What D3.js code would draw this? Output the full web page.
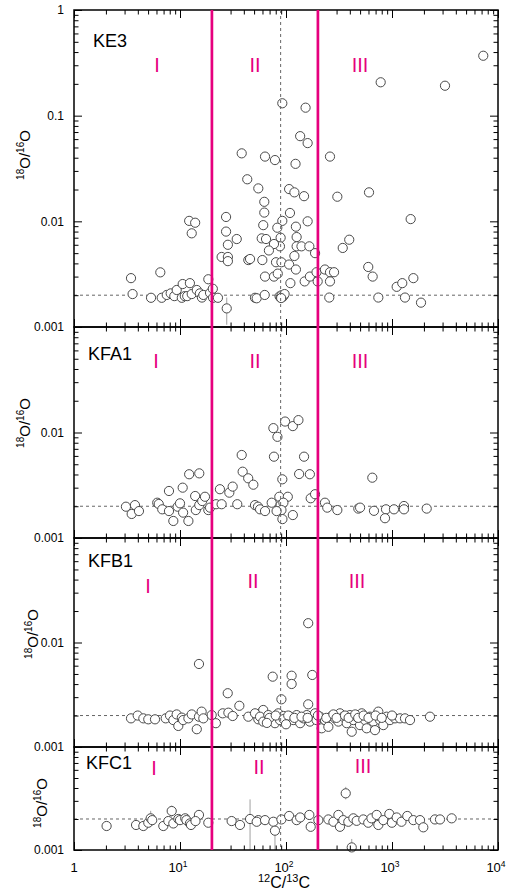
<!DOCTYPE html>
<html>
<head>
<meta charset="utf-8">
<script src="https://cdn.jsdelivr.net/npm/d3@7"></script>
<style>
  body { margin: 0; background: #fff; }
  svg { font-family: "Liberation Sans", Arial, Helvetica, sans-serif; }
</style>
</head>
<body>
<div id="chart"></div>
<script>
// 12C/13C vs 18O/16O for each grain set
const ke3 = [
  [3.45,0.0029],[3.57,0.00205],[6.52,0.00329],[5.33,0.00189],[6.72,0.00189],[7.5,0.00201],[8.17,0.00208],
  [8.84,0.00196],[9.31,0.00224],[10.4,0.00189],[10.6,0.00255],[11.1,0.00196],[11.7,0.00196],[12.4,0.0026],
  [12.9,0.00205],[14.4,0.00224],[15.4,0.00208],[16.1,0.0019],[16.6,0.00201],[18.5,0.00283],[19.2,0.0021],
  [20.4,0.0023],[20.5,0.00189],[12.2,0.0101],[13.9,0.0097],[12.9,0.0077],
  [22.8,0.00189],[27.6,0.0015],[27.2,0.011],[27.2,0.008],[28.3,0.006],[24.7,0.0046],[28.3,0.0046],[34.3,0.0068],
  [28.3,0.0042],[44.1,0.0043],[38.2,0.044],[43.1,0.025],[54.8,0.0205],[51,0.00189],
  [52.9,0.00187],[63,0.00201],[63.4,0.041],[78.7,0.038],[92.3,0.131],[153,0.119],[136,0.064],[160,0.055],
  [123,0.035],[260,0.041],[107,0.0202],[120,0.0188],[148,0.0173],[305,0.0171],[607,0.0188],[62.4,0.0153],
  [62.4,0.0121],[109,0.012],[61,0.0092],[92.3,0.0101],[160,0.01],[1500,0.0105],[82.8,0.0087],[124,0.0089],
  [59,0.0069],[64.8,0.0068],[89,0.007],[126,0.0071],[87.7,0.0058],[77,0.0061],[126,0.0058],[140,0.0058],
  [166,0.0058],[69,0.0053],[395,0.0067],[343,0.0056],[188,0.005],[45.8,0.0044],[59.8,0.0043],[80.5,0.0041],
  [90.5,0.0041],[107,0.0039],[120,0.0047],[124,0.0035],[63.4,0.003],[77,0.003],[83.6,0.0032],[110,0.0026],
  [150,0.0027],[168,0.003],[199,0.0027],[194,0.0033],[233,0.0035],[260,0.0033],[284,0.0033],[260,0.0027],
  [256,0.0019],[597,0.0037],[657,0.003],[743,0.0019],[1107,0.0024],[1250,0.0026],[1590,0.0029],[1326,0.0019],
  [1878,0.0017],[782,0.207],[3162,0.192],[7261,0.369],
  [87,0.00195],[89,0.0019],[91,0.002],[93,0.00192],[95,0.00198],[97,0.00205],[90,0.00188]
];
const ke3Err = [[27.6,0.00105,0.0019]];

const kfa1 = [
  [3.09,0.00198],[3.5,0.00169],[3.76,0.00205],[4.1,0.0018],[6.1,0.00216],[6.3,0.0021],[6.8,0.00187],
  [7.87,0.00279],[7.87,0.0018],[8.65,0.00145],[9.5,0.00198],[10,0.00213],[10.6,0.003],[10.7,0.00174],
  [12,0.00145],[12.2,0.00402],[13.9,0.0025],[14.1,0.00184],[15.2,0.0041],[15.2,0.00205],[16.2,0.00224],
  [17.2,0.00246],[18.5,0.00184],[19.2,0.00194],[21.9,0.00209],[23.8,0.0029],[24.7,0.00209],[29.2,0.00269],
  [31.4,0.00307],[34.7,0.00209],[38.2,0.00612],[39,0.00425],[44,0.00368],[49.2,0.0032],[51,0.00205],
  [54.4,0.00198],[56.9,0.00187],[63.4,0.0018],[73.3,0.00216],[76,0.011],[83,0.0091],[77,0.0059],
  [92.3,0.0036],[86.5,0.00246],[104,0.00246],[89,0.00205],[94.5,0.00216],[90.6,0.00184],[92.5,0.00151],
  [116,0.00165],[81.5,0.0018],[98,0.0127],[116,0.0115],[131,0.0131],[148,0.0059],[133,0.00404],[168,0.00402],
  [171,0.00238],[188,0.0026],[233,0.00216],[245,0.00194],[305,0.00184],[481,0.0019],[500,0.00194],
  [652,0.00373],[676,0.00181],[878,0.00187],[859,0.00154],[1044,0.00187],[1297,0.00201],[1297,0.00187],
  [2125,0.0019]
];
const kfa1Err = [];

const kfb1 = [
  [3.45,0.00188],[3.99,0.002],[4.51,0.00188],[5.02,0.00184],[5.81,0.00184],[7.33,0.00188],[8.05,0.002],
  [8.65,0.00181],[9.3,0.00205],[9.64,0.00159],[10.4,0.00191],[10.7,0.00181],[12,0.00188],[12.9,0.00205],
  [14.4,0.00148],[15.1,0.00623],[15.1,0.00195],[16,0.00218],[16.6,0.00188],[19.9,0.00202],[21.8,0.00169],
  [25.3,0.0021],[28.2,0.00327],[28.6,0.00213],[31.4,0.00198],[36.3,0.00248],[44.1,0.00195],[54.8,0.00184],
  [56.9,0.0021],[61,0.00226],[74.9,0.00471],[113,0.00481],[113,0.00401],[90.5,0.00286],[162,0.0153],
  [177,0.00489],[162,0.00256],
  [51,0.0021],[56.9,0.00195],[61,0.00175],[68.1,0.00202],[73.3,0.00188],[78.7,0.00169],[84.6,0.0021],
  [87.7,0.00181],[94.5,0.00198],[101,0.00175],[109,0.00195],[117,0.00181],[126,0.00202],[136,0.00169],
  [146,0.00188],[157,0.00202],[168,0.00175],[188,0.0021],[194,0.00181],[209,0.00195],[217,0.00151],
  [233,0.00181],[251,0.00156],[270,0.00198],[290,0.00188],[312,0.00175],[323,0.0021],[347,0.00195],
  [374,0.00169],[401,0.00202],[417,0.0014],[432,0.00181],[464,0.00195],[499,0.00162],[518,0.0021],
  [556,0.00181],[577,0.00151],[620,0.00195],[666,0.00175],[691,0.00145],[743,0.00218],[771,0.00181],
  [828,0.00162],[891,0.00195],[957,0.00181],[1067,0.00188],[1190,0.00188],[1326,0.00188],[1479,0.00181],
  [2282,0.00195],
  [70,0.0019],[80,0.002],[95,0.00185],[105,0.002],[120,0.0019],[140,0.00195],[160,0.0019],[200,0.002],
  [240,0.0019],[280,0.00205],[300,0.0019],[360,0.002],[390,0.0019],[450,0.00205],[480,0.0019],[540,0.002],
  [600,0.0019],[700,0.002],[800,0.0019],[1000,0.002],[66,0.0017],[100,0.00165]
];
const kfb1Err = [];

const kfc1 = [
  [2.03,0.00171],[3.85,0.00175],[4.51,0.00171],[5.02,0.00184],[5.29,0.00203],[5.47,0.00195],[6.96,0.00171],
  [7.76,0.00191],[8.35,0.00239],[8.65,0.00181],[9.64,0.002],[10,0.00195],[11.2,0.00203],[11.5,0.00195],
  [12.4,0.00181],[12.7,0.00175],[15.1,0.00219],[14,0.00191],[18.5,0.00184],[30.7,0.00191],[36.8,0.00175],
  [45.8,0.002],[54.8,0.00195],[52.9,0.00188],[63.4,0.00195],[76,0.00188],[78.7,0.00154],[90.5,0.00198],
  [107,0.00214],[126,0.00195],[136,0.00207],[166,0.00219],[171,0.00168],[202,0.00195],[251,0.00198],
  [280,0.00188],[312,0.00219],[323,0.00168],[347,0.00195],[366,0.00355],[387,0.00188],[417,0.00106],
  [432,0.00203],[464,0.00192],[536,0.00198],[597,0.00184],[640,0.00203],[717,0.00219],[743,0.00175],
  [828,0.00195],[944,0.00224],[998,0.00184],[1107,0.00207],[1229,0.00188],[1393,0.00214],[1590,0.00195],
  [1837,0.00195],[1974,0.00166],[2544,0.00198],[2837,0.00198],[3656,0.00203]
];
const kfc1Err = [
  [45.8,0.001,0.0031],[78.7,0.001,0.0017],[366,0.0031,0.0041],[417,0.001,0.00128],
  [5.29,0.0017,0.0024],[8.35,0.0021,0.0027],[15.1,0.002,0.0024]
];

const solarC = 89, solarO = 0.002;
const regionBounds = [20, 200];
const romans = ["I", "II", "III"];
const xTickLabels = [[1, "1", ""], [10, "10", "1"], [100, "10", "2"], [1000, "10", "3"], [10000, "10", "4"]];

const W = 508, H = 892;
const left = 74, right = 498;
const pink = "#e6007e";

const svg = d3.select("#chart").append("svg")
  .attr("width", W).attr("height", H);

const x = d3.scaleLog().domain([1, 1e4]).range([left, right]);

const panels = [
  { name: "KE3", data: ke3, err: ke3Err, domain: [0.001, 1], top: 10, bottom: 327,
    labels: [1, 0.1, 0.01, 0.001], nameAt: [93, 47], titleAt: [24, 155],
    romanAt: [[157, 72], [255, 72], [360, 72]] },
  { name: "KFA1", data: kfa1, err: kfa1Err, domain: [0.001, 0.1], top: 327, bottom: 538,
    labels: [0.01, 0.001], nameAt: [88, 360], titleAt: [24, 423],
    romanAt: [[156, 368], [255, 368], [360, 368]] },
  { name: "KFB1", data: kfb1, err: kfb1Err, domain: [0.001, 0.1], top: 538, bottom: 747,
    labels: [0.01, 0.001], nameAt: [88, 567], titleAt: [32, 634],
    romanAt: [[148, 593], [253, 588], [357, 588]] },
  { name: "KFC1", data: kfc1, err: kfc1Err, domain: [0.001, 0.01], top: 747, bottom: 850,
    labels: [0.001], nameAt: [86, 769], titleAt: [41, 803],
    romanAt: [[154, 775], [259, 774], [363, 773]] }
];

// log tick values
function logTicks(lo, hi) {
  const major = [], minor = [];
  for (let d = lo; d <= hi * 1.0001; d *= 10) {
    major.push(d);
    if (d < hi * 0.999) for (let k = 2; k < 10; k++) minor.push(k * d);
  }
  return { major, minor };
}

function tickAxis(axis, values, size, tx, ty) {
  svg.append("g")
    .attr("transform", `translate(${tx},${ty})`)
    .call(axis.tickValues(values).tickSize(size).tickFormat(""))
    .call(g => g.select(".domain").remove())
    .selectAll("line")
    .attr("stroke", "#000")
    .attr("stroke-width", 1);
}

const xt = logTicks(1, 1e4);

panels.forEach(p => {
  const y = d3.scaleLog().domain(p.domain).range([p.bottom, p.top]);
  const yt = logTicks(p.domain[0], p.domain[1]);

  // solar reference lines
  svg.append("line")
    .attr("x1", left).attr("x2", right)
    .attr("y1", y(solarO)).attr("y2", y(solarO))
    .attr("stroke", "#666").attr("stroke-width", 1)
    .attr("stroke-dasharray", "3,3");

  // error bars
  svg.append("g").selectAll("line")
    .data(p.err)
    .join("line")
    .attr("x1", d => x(d[0])).attr("x2", d => x(d[0]))
    .attr("y1", d => y(d[1])).attr("y2", d => y(d[2]))
    .attr("stroke", "#888").attr("stroke-width", 0.8);

  // points
  svg.append("g").selectAll("circle")
    .data(p.data)
    .join("circle")
    .attr("cx", d => x(d[0]))
    .attr("cy", d => y(d[1]))
    .attr("r", 4.6)
    .attr("fill", "#fff")
    .attr("stroke", "#4a4a4a")
    .attr("stroke-width", 1);

  // ticks, all pointing inward
  tickAxis(d3.axisBottom(x), xt.major, 8, 0, p.top);
  tickAxis(d3.axisBottom(x), xt.minor, 4.5, 0, p.top);
  tickAxis(d3.axisTop(x), xt.major, 8, 0, p.bottom);
  tickAxis(d3.axisTop(x), xt.minor, 4.5, 0, p.bottom);
  tickAxis(d3.axisRight(y), yt.major, 8, left, 0);
  tickAxis(d3.axisRight(y), yt.minor, 4.5, left, 0);
  tickAxis(d3.axisLeft(y), yt.major, 8, right, 0);
  tickAxis(d3.axisLeft(y), yt.minor, 4.5, right, 0);

  // y tick labels
  svg.append("g").selectAll("text")
    .data(p.labels)
    .join("text")
    .attr("x", left - 10)
    .attr("y", d => y(d))
    .attr("dy", "0.35em")
    .attr("text-anchor", "end")
    .attr("font-size", 12)
    .text(d => String(d));

  // y title
  const t = svg.append("text")
    .attr("transform", `translate(${p.titleAt[0]},${p.titleAt[1]}) rotate(-90)`)
    .attr("y", 5.5)
    .attr("text-anchor", "middle")
    .attr("font-size", 15);
  t.append("tspan").attr("font-size", 10).attr("dy", -6).text("18");
  t.append("tspan").attr("dy", 6).text("O/");
  t.append("tspan").attr("font-size", 10).attr("dy", -6).text("16");
  t.append("tspan").attr("dy", 6).text("O");

  // sample name
  svg.append("text")
    .attr("x", p.nameAt[0]).attr("y", p.nameAt[1])
    .attr("font-size", 18)
    .text(p.name);

  // region labels
  svg.append("g").selectAll("text")
    .data(romans)
    .join("text")
    .attr("x", (d, i) => p.romanAt[i][0])
    .attr("y", (d, i) => p.romanAt[i][1])
    .attr("text-anchor", "middle")
    .attr("font-size", 20)
    .attr("fill", pink)
    .text(d => d);

  svg.append("rect")
    .attr("x", left).attr("y", p.top)
    .attr("width", right - left).attr("height", p.bottom - p.top)
    .attr("fill", "none")
    .attr("stroke", "#000")
    .attr("stroke-width", 1.5);
});

const yTop = panels[0].top, yBot = panels[panels.length - 1].bottom;

// solar 12C/13C
svg.append("line")
  .attr("x1", x(solarC)).attr("x2", x(solarC))
  .attr("y1", yTop).attr("y2", yBot)
  .attr("stroke", "#666").attr("stroke-width", 1)
  .attr("stroke-dasharray", "3,3");

// region boundaries
svg.append("g").selectAll("line")
  .data(regionBounds)
  .join("line")
  .attr("x1", d => x(d)).attr("x2", d => x(d))
  .attr("y1", yTop).attr("y2", yBot)
  .attr("stroke", pink)
  .attr("stroke-width", 2.7);

// x tick labels
const xl = svg.append("g").selectAll("text")
  .data(xTickLabels)
  .join("text")
  .attr("x", d => x(d[0]) - (d[2] ? 2 : 0))
  .attr("y", 872)
  .attr("text-anchor", "middle")
  .attr("font-size", 13);
xl.append("tspan").text(d => d[1]);
xl.append("tspan").attr("font-size", 8.5).attr("dy", -5).text(d => d[2]);

// x title
const xtTitle = svg.append("text")
  .attr("x", 284).attr("y", 888)
  .attr("text-anchor", "middle")
  .attr("font-size", 16);
xtTitle.append("tspan").attr("font-size", 11).attr("dy", -6).text("12");
xtTitle.append("tspan").attr("dy", 6).text("C/");
xtTitle.append("tspan").attr("font-size", 11).attr("dy", -6).text("13");
xtTitle.append("tspan").attr("dy", 6).text("C");
</script>
</body>
</html>
